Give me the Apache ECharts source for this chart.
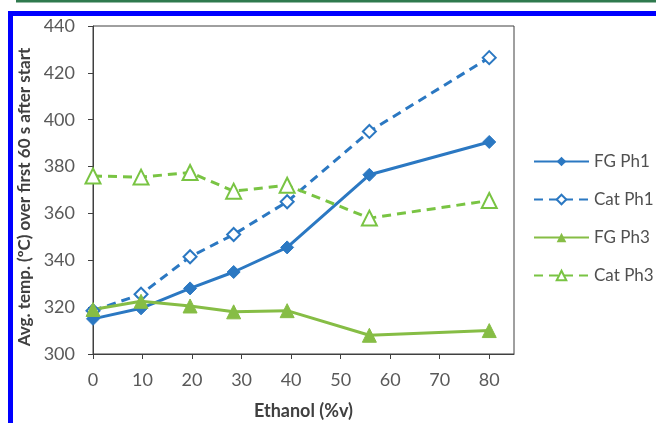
<!DOCTYPE html>
<html>
<head>
<meta charset="utf-8">
<script src="https://cdn.jsdelivr.net/npm/echarts@6/dist/echarts.min.js"></script>
<style>
  html, body { margin: 0; padding: 0; background: #fff; }
  #chart { width: 656px; height: 423px; }
</style>
</head>
<body>
<div id="chart"></div>
<script>
// ethanol content (%v) of each sample
var ethanol = [0, 9.7, 19.6, 28.4, 39.2, 55.8, 80];

var fgPh1  = [315, 319.5, 328, 335, 345.5, 376.5, 390.5];
var catPh1 = [318.5, 325.5, 341.5, 351, 365, 395, 426.5];
var fgPh3  = [319, 322.5, 320.5, 318, 318.5, 308, 310];
var catPh3 = [376, 375.5, 377.5, 369.5, 372, 358, 365.5];

var yTicks = [300, 320, 340, 360, 380, 400, 420, 440];

var blue = '#2b78c2';
var green = '#86bd45';
var lightGreen = '#79c443';

function pairs(vals) {
    return vals.map(function (v, i) { return [ethanol[i], v]; });
}

var chart = echarts.init(document.getElementById('chart'));
chart.setOption({
    animation: false,
    textStyle: { fontFamily: 'Lato' },
    graphic: [
        { type: 'rect', shape: { x: 16, y: 0, width: 640, height: 2.5 }, style: { fill: '#2f7a4e' } },
        { type: 'rect', shape: { x: 8, y: 11, width: 648, height: 5 }, style: { fill: '#0000ff' } },
        { type: 'rect', shape: { x: 8, y: 11, width: 5, height: 412 }, style: { fill: '#0000ff' } }
    ],
    grid: {
        left: 93, top: 26, right: 142, bottom: 69,
        outerBoundsMode: 'none',
        show: true, borderColor: '#404040', borderWidth: 1, backgroundColor: 'transparent'
    },
    legend: {
        orient: 'vertical',
        left: 533, top: 153, padding: 0,
        itemWidth: 55, itemHeight: 12, itemGap: 21,
        textStyle: { fontSize: 17, color: '#505050', fontFamily: 'Lato' },
        data: ['FG Ph1', 'Cat Ph1', 'FG Ph3', 'Cat Ph3']
    },
    xAxis: {
        type: 'value', min: 0, max: 85, interval: 10,
        name: 'Ethanol (%v)', nameLocation: 'middle', nameGap: 48,
        nameTextStyle: { fontSize: 18, fontWeight: 'bold', color: '#404040', fontFamily: 'Lato' },
        axisLine: { onZero: false, lineStyle: { color: '#404040' } },
        axisTick: { length: 5, lineStyle: { color: '#404040' } },
        axisLabel: { fontSize: 18, color: '#595959', margin: 17, showMaxLabel: false },
        splitLine: { show: false }
    },
    yAxis: {
        type: 'value', min: yTicks[0], max: yTicks[yTicks.length - 1], interval: 20,
        name: 'Avg. temp. (\u00baC) over first 60 s after start',
        nameLocation: 'middle', nameGap: 58, nameRotate: 90,
        nameTextStyle: { fontSize: 17, fontWeight: 'bold', color: '#404040', fontFamily: 'Lato', padding: [0, 14, 0, 0] },
        axisLine: { show: true, lineStyle: { color: '#404040' } },
        axisTick: { show: true, length: 5, lineStyle: { color: '#404040' } },
        axisLabel: { fontSize: 18, color: '#595959', margin: 18 },
        splitLine: { show: false }
    },
    series: [
        {
            name: 'FG Ph1', type: 'line', data: pairs(fgPh1),
            symbol: 'diamond', symbolSize: 13,
            lineStyle: { color: blue, width: 3 },
            itemStyle: { color: blue, borderColor: blue }
        },
        {
            name: 'Cat Ph1', type: 'line', data: pairs(catPh1),
            symbol: 'diamond', symbolSize: 13,
            lineStyle: { color: blue, width: 3, type: [9, 6] },
            itemStyle: { color: '#fff', borderColor: blue, borderWidth: 2 }
        },
        {
            name: 'FG Ph3', type: 'line', data: pairs(fgPh3),
            symbol: 'triangle', symbolSize: 14,
            lineStyle: { color: green, width: 3 },
            itemStyle: { color: green, borderColor: green }
        },
        {
            name: 'Cat Ph3', type: 'line', data: pairs(catPh3),
            symbol: 'triangle', symbolSize: 15,
            lineStyle: { color: lightGreen, width: 3, type: [9, 6] },
            itemStyle: { color: '#fff', borderColor: lightGreen, borderWidth: 2 }
        }
    ]
});
</script>
</body>
</html>
